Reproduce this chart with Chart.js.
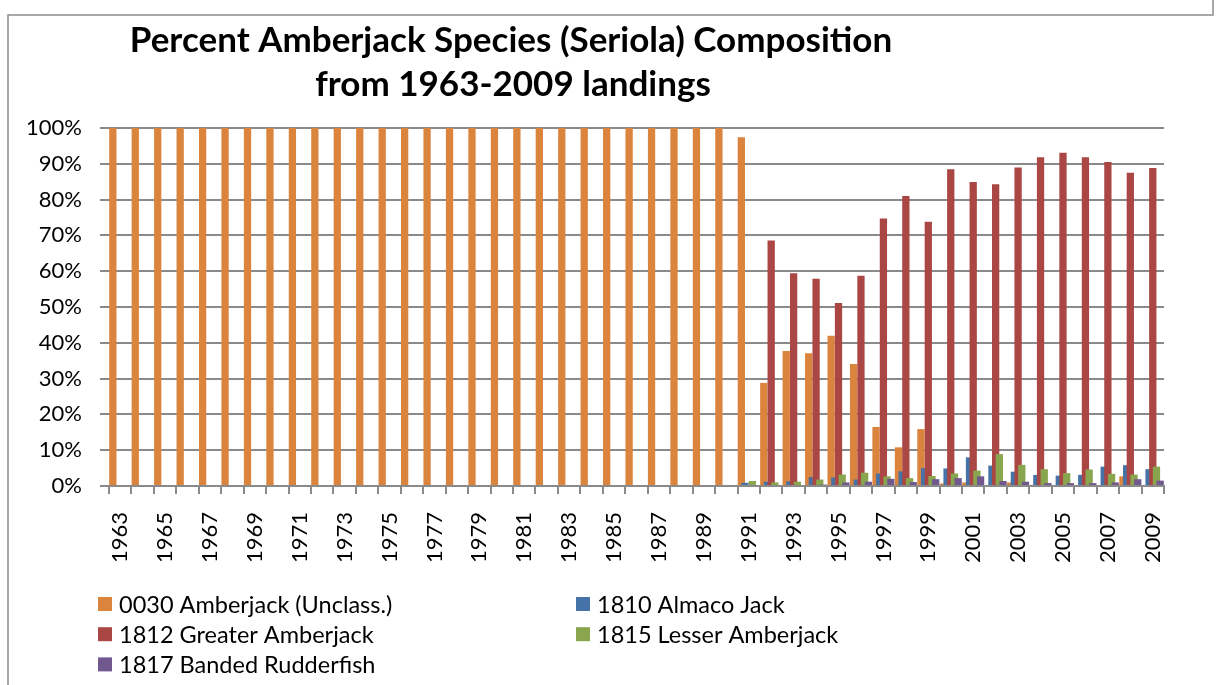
<!DOCTYPE html>
<html>
<head>
<meta charset="utf-8">
<script src="https://cdn.jsdelivr.net/npm/chart.js"></script>
<style>
  body { margin: 0; background: #fff; }
</style>
</head>
<body>
<canvas id="myChart" width="1220" height="685"></canvas>
<script>
const years = ['1963','1964','1965','1966','1967','1968','1969','1970','1971','1972',
  '1973','1974','1975','1976','1977','1978','1979','1980','1981','1982',
  '1983','1984','1985','1986','1987','1988','1989','1990','1991','1992',
  '1993','1994','1995','1996','1997','1998','1999','2000','2001','2002',
  '2003','2004','2005','2006','2007','2008','2009'];

const seriesNames = ['0030 Amberjack (Unclass.)', '1810 Almaco Jack', '1812 Greater Amberjack',
  '1815 Lesser Amberjack', '1817 Banded Rudderfish'];
const seriesColors = ['#DB843D', '#4572A7', '#AA4643', '#89A54E', '#71588F'];

const amberjack0030 = [100,100,100,100,100,100,100,100,100,100,
  100,100,100,100,100,100,100,100,100,100,
  100,100,100,100,100,100,100,100,97.4,28.8,
  37.7,37.1,42.0,34.1,16.5,10.8,15.9,0.7,1.0,0,
  1.0,0.3,0,0,0,2.7,0];
const almaco1810 = [0,0,0,0,0,0,0,0,0,0,
  0,0,0,0,0,0,0,0,0,0,
  0,0,0,0,0,0,0,0,0.9,1.2,
  1.3,2.5,2.4,1.8,3.5,4.1,5.0,4.9,8.0,5.7,
  4.0,3.1,2.9,3.1,5.4,5.8,4.7];
const greater1812 = [0,0,0,0,0,0,0,0,0,0,
  0,0,0,0,0,0,0,0,0,0,
  0,0,0,0,0,0,0,0,0,68.6,
  59.4,57.9,51.1,58.7,74.7,81.0,73.8,88.5,84.9,84.3,
  89.0,91.8,93.1,91.8,90.5,87.5,88.8];
const lesser1815 = [0,0,0,0,0,0,0,0,0,0,
  0,0,0,0,0,0,0,0,0,0,
  0,0,0,0,0,0,0,0,1.4,1.0,
  1.2,1.8,3.2,3.7,2.7,2.2,2.8,3.5,4.3,8.9,
  5.9,4.7,3.6,4.6,3.4,3.2,5.4];
const banded1817 = [0,0,0,0,0,0,0,0,0,0,
  0,0,0,0,0,0,0,0,0,0,
  0,0,0,0,0,0,0,0,0,0,
  0,0.4,1.0,1.2,2.0,1.1,1.9,2.2,2.7,1.4,
  1.2,0.8,0.8,0.8,1.0,1.9,1.5];

const titleLines = ['Percent Amberjack Species (Seriola) Composition', 'from 1963-2009 landings'];
const yTicks = [0,10,20,30,40,50,60,70,80,90,100];

const allSeries = [amberjack0030, almaco1810, greater1812, lesser1815, banded1817];
const FONT = 'Lato, "Open Sans", sans-serif';
const GRID = '#8a8a8a';

Chart.defaults.color = '#000';
Chart.defaults.font.family = FONT;

// excel draws later series on top, chart.js does the opposite
const drawOrder = {
  id: 'drawOrder',
  beforeDatasetsDraw(chart) {
    chart.getSortedVisibleDatasetMetas().forEach(m => m.controller.draw());
    return false;
  }
};

const extras = {
  id: 'extras',
  beforeDraw(chart) {
    const ctx = chart.ctx;
    ctx.save();
    ctx.fillStyle = '#fff';
    ctx.fillRect(0, 0, chart.width, chart.height);
    ctx.strokeStyle = '#8c8c8c';
    ctx.lineWidth = 1.5;
    ctx.beginPath();
    ctx.moveTo(8, 685); ctx.lineTo(8, 15); ctx.lineTo(1213, 15); ctx.lineTo(1213, 0);
    ctx.stroke();
    ctx.restore();
  },
  afterDraw(chart) {
    const ctx = chart.ctx;
    ctx.save();
    ctx.fillStyle = '#000';
    ctx.textAlign = 'center';
    ctx.textBaseline = 'alphabetic';
    ctx.font = 'bold 35px ' + FONT;
    ctx.fillText(titleLines[0], 511, 52);
    ctx.fillText(titleLines[1], 513, 96);

    ctx.font = '23.5px ' + FONT;
    ctx.textAlign = 'left';
    ctx.textBaseline = 'middle';
    seriesNames.forEach((name, i) => {
      const x = i % 2 === 0 ? 98 : 576;
      const y = 604 + Math.floor(i / 2) * 30.2;
      ctx.fillStyle = seriesColors[i];
      ctx.fillRect(x, y - 7, 14, 14);
      ctx.fillStyle = '#000';
      ctx.fillText(name, x + 21, y + 1);
    });
    ctx.restore();
  }
};

const config = {
  type: 'bar',
  data: {
    labels: years,
    datasets: allSeries.map((d, i) => ({
      label: seriesNames[i],
      data: d,
      backgroundColor: seriesColors[i],
      borderWidth: 0,
      barPercentage: 1.97,
      categoryPercentage: 0.823
    }))
  },
  options: {
    responsive: false,
    animation: false,
    layout: { padding: { top: 128, left: 0, right: 56, bottom: 99 } },
    plugins: {
      legend: { display: false },
      title: { display: false },
      tooltip: { enabled: false }
    },
    scales: {
      x: {
        afterFit: s => { s.height = 100; },
        offset: true,
        grid: {
          offset: true,
          drawOnChartArea: false,
          drawTicks: true,
          tickLength: 8,
          color: GRID,
          lineWidth: 2
        },
        border: { display: true, color: GRID, width: 2 },
        ticks: {
          autoSkip: false,
          maxRotation: 90,
          minRotation: 90,
          padding: 18,
          font: { size: 22 },
          callback: function (v, i) { return i % 2 === 0 ? this.getLabelForValue(v) : ''; }
        }
      },
      y: {
        afterFit: s => { s.width = 109; },
        min: 0,
        max: 100,
        afterBuildTicks: s => { s.ticks = yTicks.map(v => ({ value: v })); },
        grid: {
          drawTicks: true,
          tickLength: 9,
          color: GRID,
          lineWidth: 2
        },
        border: { display: false },
        ticks: {
          padding: 18,
          font: { size: 22 },
          callback: v => v + '%'
        }
      }
    }
  },
  plugins: [drawOrder, extras]
};

const myChart = new Chart(document.getElementById('myChart'), config);
</script>
</body>
</html>
